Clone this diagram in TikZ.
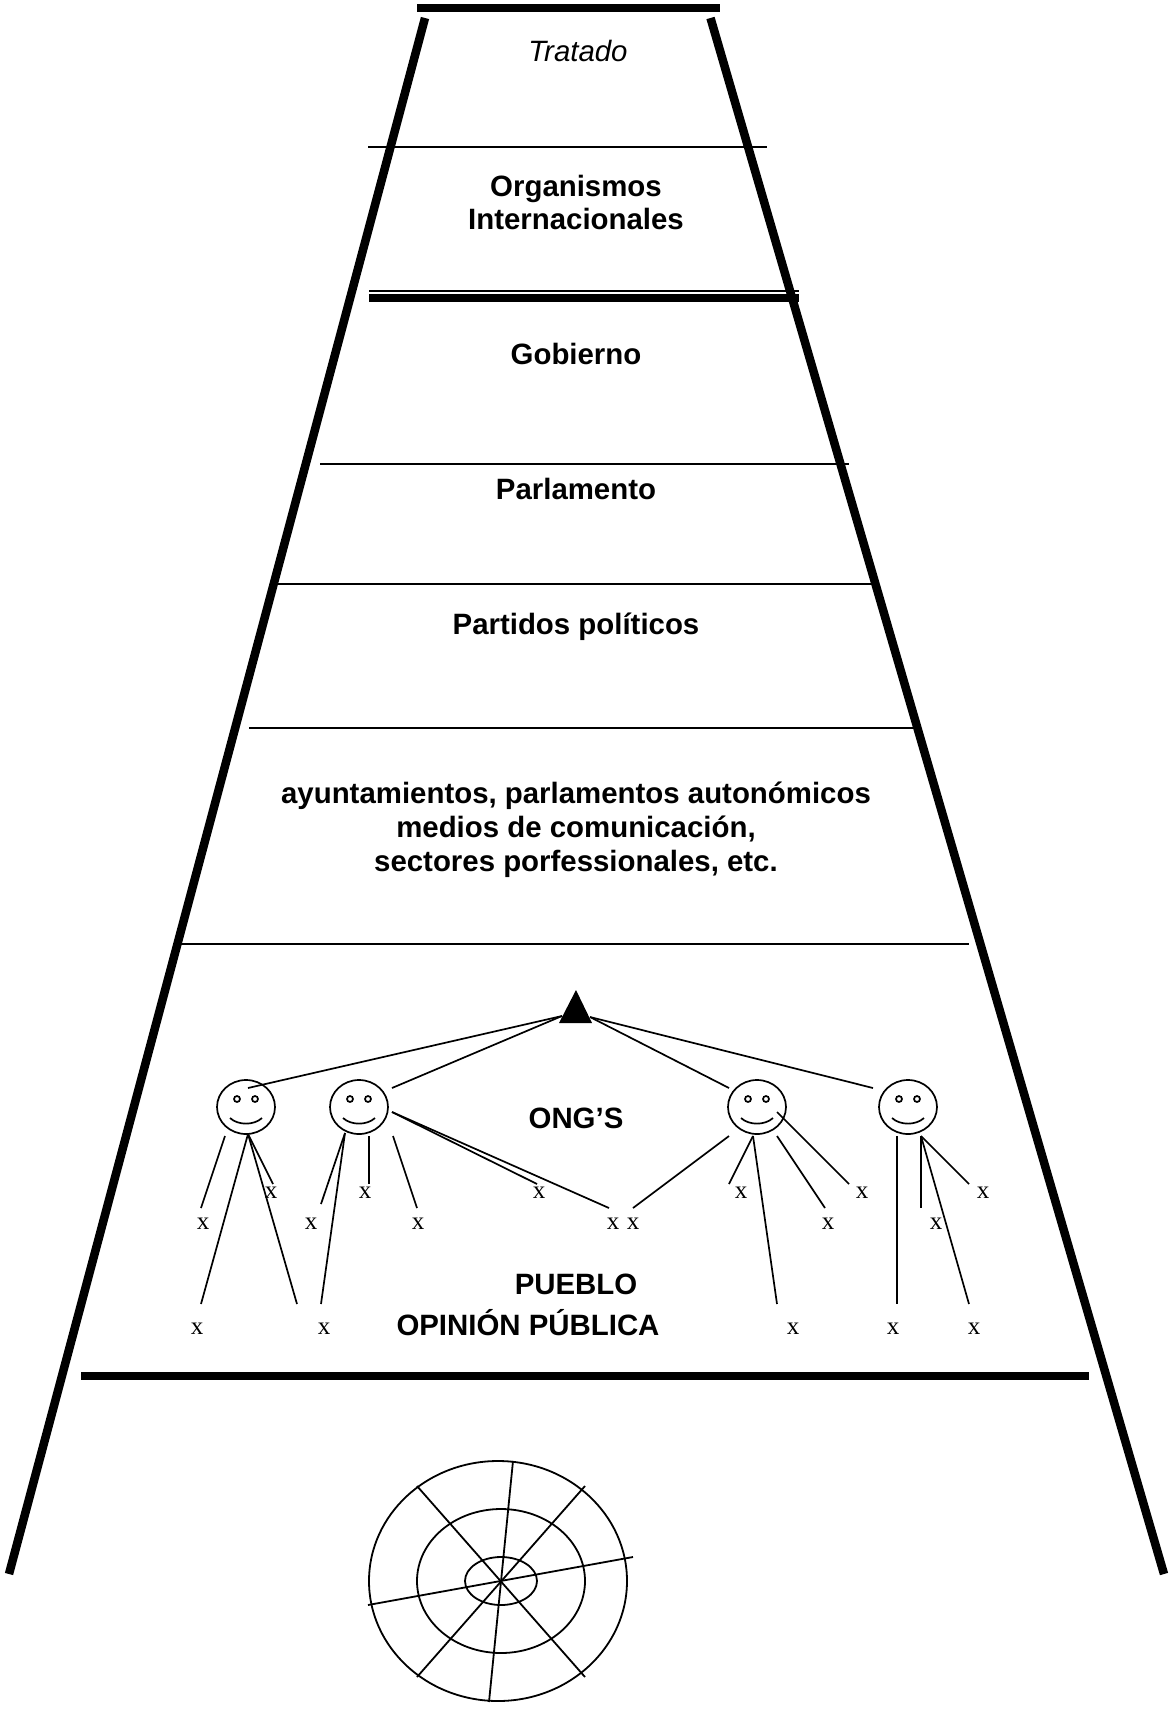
\documentclass[tikz,border=0pt]{standalone}
\usepackage{fontspec}
\setmainfont{Liberation Sans}
\newfontfamily\timesfont{Liberation Serif}
\tikzset{
  wall/.style={line width=8.5pt,line cap=butt},
  rule/.style={line width=1.2pt},
  heavyrule/.style={line width=7.5pt},
  limb/.style={line width=1.7pt},
  head/.style={draw,line width=1.7pt,ellipse,minimum width=58pt,minimum height=54pt,inner sep=0pt},
  label/.style={font=\fontsize{29.4}{33}\selectfont\bfseries,align=center,inner sep=0pt},
  xmark/.style={font=\fontsize{25}{25}\timesfont,inner sep=0pt},
  ring/.style={line width=1.8pt},
}
\usetikzlibrary{shapes.geometric}
\newcommand{\facefeatures}[1]{%
  \draw[limb] ([shift={(-9,-8)}]#1.center) circle (3);
  \draw[limb] ([shift={(9,-8)}]#1.center) circle (3);
  \draw[limb] ([shift={(-16,11)}]#1.center) .. controls +(8,7.5) and +(-8,7.5) .. ([shift={(16,11)}]#1.center);
}
\begin{document}
\begin{tikzpicture}[x=1pt,y=-1pt]
\useasboundingbox (0,0) rectangle (1171,1709);
% frame
\coordinate (topL) at (417,7.5); \coordinate (topR) at (720,7.5);
\coordinate (wallLt) at (425,18); \coordinate (wallLb) at (9,1574);
\coordinate (wallRt) at (710.5,18); \coordinate (wallRb) at (1164,1574);
\draw[line width=8pt] (topL) -- (topR);
\draw[wall] (wallLt) -- (wallLb);
\draw[wall] (wallRt) -- (wallRb);
% rules
\coordinate (r1a) at (368,147); \coordinate (r1b) at (767,147);
\coordinate (r2a) at (369,291); \coordinate (r2b) at (799,291);
\coordinate (r3a) at (369,298); \coordinate (r3b) at (799,298);
\coordinate (r4a) at (320,464); \coordinate (r4b) at (849,464);
\coordinate (r5a) at (277,584); \coordinate (r5b) at (872,584);
\coordinate (r6a) at (249,728); \coordinate (r6b) at (916,728);
\coordinate (r7a) at (181,944); \coordinate (r7b) at (969,944);
\coordinate (r8a) at (81,1376); \coordinate (r8b) at (1089,1376);
\draw[rule] (r1a) -- (r1b);
\draw[rule] (r2a) -- (r2b);
\draw[heavyrule] (r3a) -- (r3b);
\draw[rule] (r4a) -- (r4b);
\draw[rule] (r5a) -- (r5b);
\draw[rule] (r6a) -- (r6b);
\draw[rule] (r7a) -- (r7b);
\draw[heavyrule] (r8a) -- (r8b);
% labels
\node[label,font=\fontsize{29.4}{33}\selectfont\itshape] (tratado) at (578,51) {Tratado};
\node[label] (org) at (576,202) {Organismos\\Internacionales};
\node[label] (gob) at (576,354) {Gobierno};
\node[label] (parl) at (576,489) {Parlamento};
\node[label] (part) at (576,627) {Partidos políticos};
\node[label,font=\fontsize{29.4}{34}\selectfont\bfseries] (ayun) at (576,830) {ayuntamientos, parlamentos autonómicos\\medios de comunicación,\\sectores porfessionales, etc.};
\node[label] (ong) at (576,1118) {ONG’S};
\node[label] (pueblo) at (576,1284) {PUEBLO};
\node[label] (opinion) at (528,1323) {OPINIÓN PÚBLICA};
% apex triangle
\coordinate (tA) at (576,990); \coordinate (tB) at (559,1023); \coordinate (tC) at (592,1023);
\fill (tA) -- (tB) -- (tC) -- cycle;
\coordinate (tl) at (562,1016); \coordinate (tr) at (590,1017);
% faces
\node[head] (f1) at (246,1107) {};
\node[head] (f2) at (359,1107) {};
\node[head] (f3) at (757,1107) {};
\node[head] (f4) at (908,1107) {};
\facefeatures{f1}\facefeatures{f2}\facefeatures{f3}\facefeatures{f4}
% x marks
\foreach \n/\px/\py in {a/203/1224,b/271/1193,c/197/1329,d/324/1329,e/311/1224,f/365/1193,g/418/1224,h/539/1193,i/613/1224,j/633/1224,k/741/1193,l/828/1224,m/862/1193,n/793/1329,o/893/1329,p/936/1224,q/983/1193,r/974/1329}
  \node[xmark] (x\n) at (\px,\py) {x};
% connector ends
\coordinate (f1top) at (248,1088); \coordinate (f2top) at (392,1088);
\coordinate (f3top) at (729,1088); \coordinate (f4top) at (873,1088);
\coordinate (a0) at (225,1136); \coordinate (a1) at (201,1208);
\coordinate (b0) at (248,1134); \coordinate (c1) at (201,1304);
\coordinate (b1) at (273,1184); \coordinate (s1) at (297,1304);
\coordinate (e0) at (345,1133); \coordinate (e1) at (321,1204); \coordinate (d1) at (321,1304);
\coordinate (f0) at (369,1136); \coordinate (f1e) at (369,1184);
\coordinate (g0) at (393,1136); \coordinate (g1) at (417,1208);
\coordinate (h0) at (392,1112); \coordinate (h1) at (537,1184); \coordinate (i1) at (609,1208);
\coordinate (j0) at (729,1136); \coordinate (j1) at (633,1208);
\coordinate (k0) at (753,1136); \coordinate (k1) at (729,1184); \coordinate (n1) at (777,1304);
\coordinate (l0) at (777,1136); \coordinate (l1) at (825,1208);
\coordinate (m0) at (777,1112); \coordinate (m1) at (849,1184);
\coordinate (o0) at (897,1136); \coordinate (o1) at (897,1304);
\coordinate (p0) at (921,1136); \coordinate (p1) at (921,1208); \coordinate (r1) at (969,1304); \coordinate (q1) at (969,1184);
\draw[limb] (f1top) -- (tl);
\draw[limb] (f2top) -- (tl);
\draw[limb] (tr) -- (f3top);
\draw[limb] (tr) -- (f4top);
\draw[limb] (a0) -- (a1);
\draw[limb] (b0) -- (c1);
\draw[limb] (b0) -- (b1);
\draw[limb] (b0) -- (s1);
\draw[limb] (e0) -- (e1);
\draw[limb] (e0) -- (d1);
\draw[limb] (f0) -- (f1e);
\draw[limb] (g0) -- (g1);
\draw[limb] (h0) -- (h1);
\draw[limb] (h0) -- (i1);
\draw[limb] (j0) -- (j1);
\draw[limb] (k0) -- (k1);
\draw[limb] (k0) -- (n1);
\draw[limb] (l0) -- (l1);
\draw[limb] (m0) -- (m1);
\draw[limb] (o0) -- (o1);
\draw[limb] (p0) -- (p1);
\draw[limb] (p0) -- (r1);
\draw[limb] (p0) -- (q1);
% target
\coordinate (oc) at (498,1581); \coordinate (cc) at (501,1581);
\draw[ring] (oc) ellipse [x radius=129,y radius=120];
\draw[ring] (cc) ellipse [x radius=84,y radius=72];
\draw[ring] (cc) ellipse [x radius=36,y radius=24];
\coordinate (s1a) at (417,1486); \coordinate (s1b) at (585,1677);
\coordinate (s2a) at (585,1486); \coordinate (s2b) at (417,1677);
\coordinate (s3a) at (513,1461); \coordinate (s3b) at (489,1702);
\coordinate (s4a) at (633,1557); \coordinate (s4b) at (368,1605);
\draw[ring] (s1a) -- (s1b);
\draw[ring] (s2a) -- (s2b);
\draw[ring] (s3a) -- (s3b);
\draw[ring] (s4a) -- (s4b);
\end{tikzpicture}
\end{document}
